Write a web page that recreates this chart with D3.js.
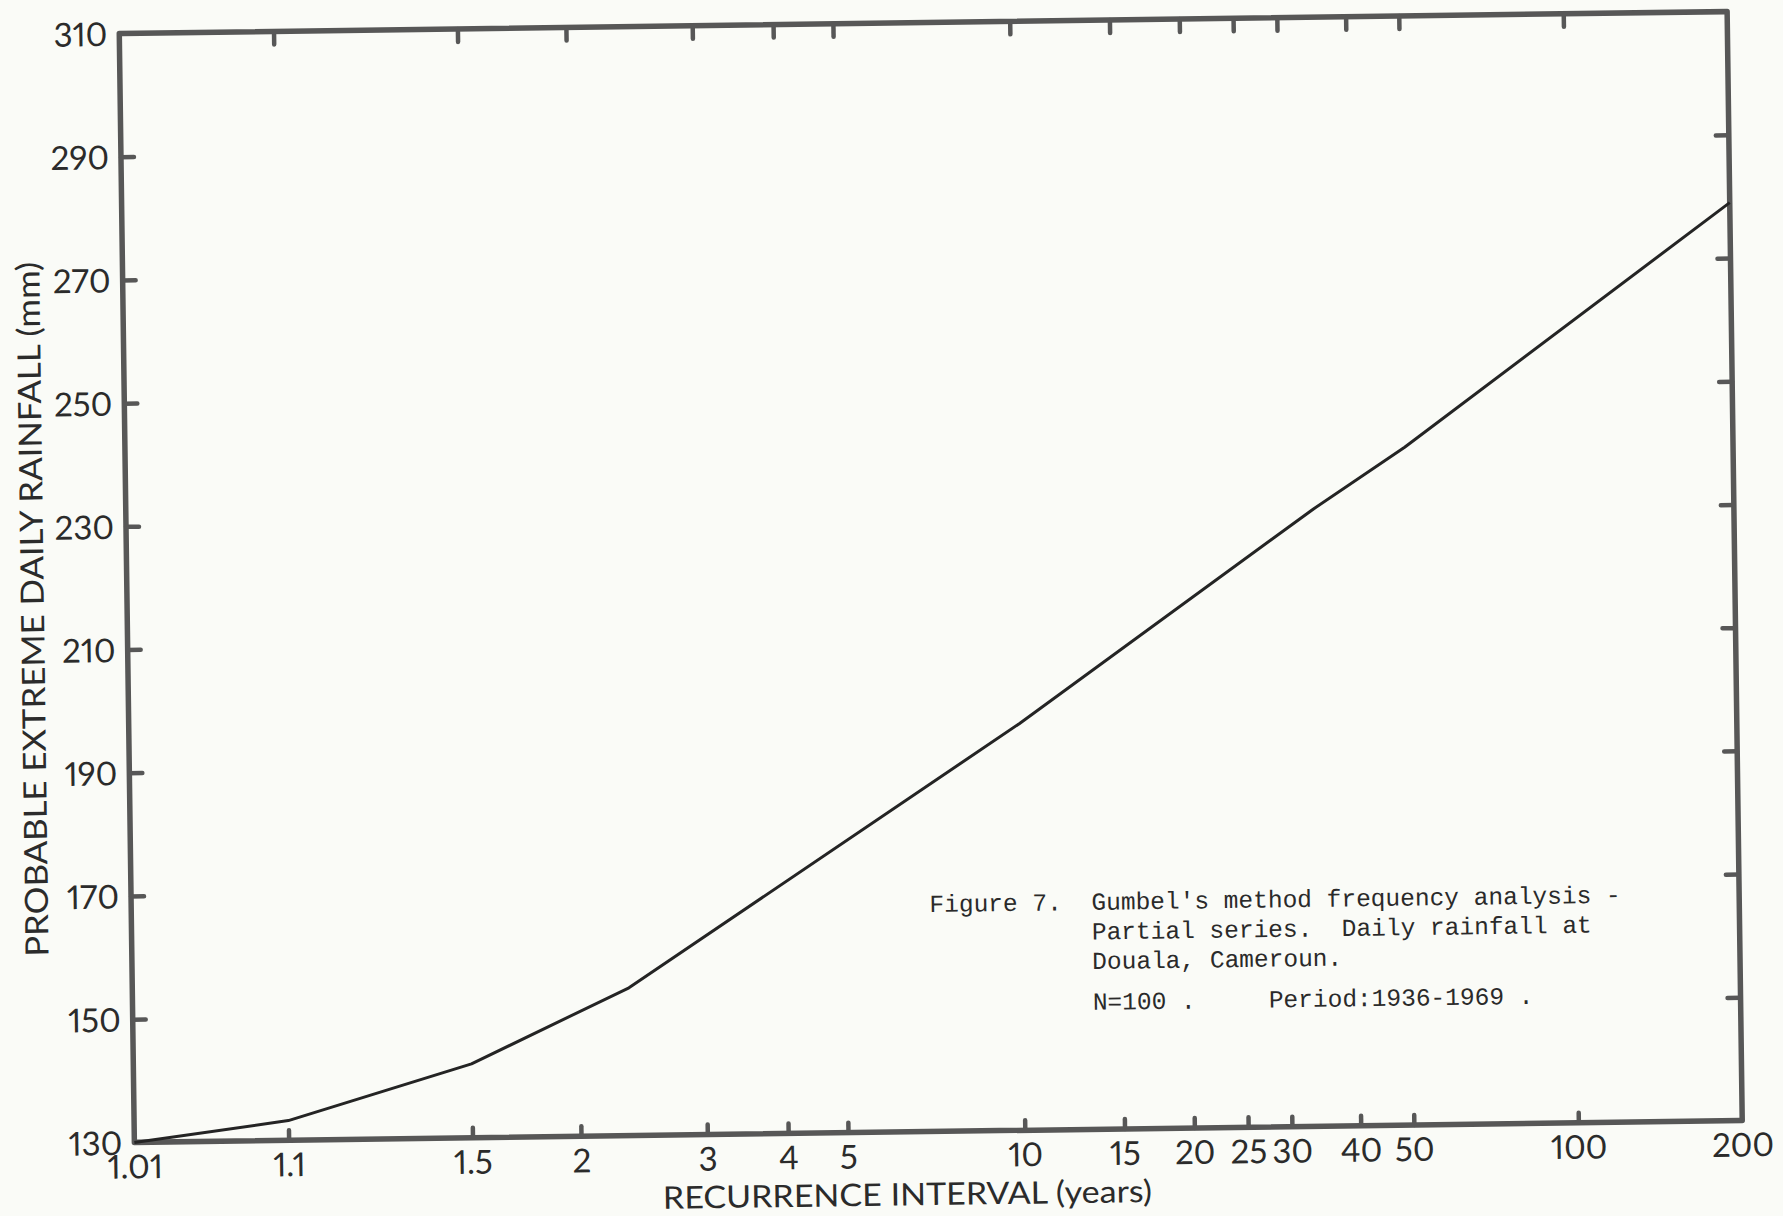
<!DOCTYPE html>
<html>
<head>
<meta charset="utf-8">
<script src="https://cdn.jsdelivr.net/npm/d3@7"></script>
<style>
  html, body { margin: 0; padding: 0; background: #fafbf7; }
  svg { display: block; }
</style>
</head>
<body>
<svg id="chart" width="1783" height="1216"></svg>
<script>
// Return periods (years) and probable extreme daily rainfall (mm) along the curve
const periods  = [1.01, 1.1, 1.5, 2.33, 10, 34, 50, 200];
const rainfall = [130, 133.2, 142, 154, 196, 230.2, 240, 279];

// Axis labelling
const xLabelValues = [1.01, 1.1, 1.5, 2, 3, 4, 5, 10, 15, 20, 25, 30, 40, 50, 100, 200];
const xLabelText   = ["1.01", "1.1", "1.5", "2", "3", "4", "5", "10", "15", "20", "25", "30", "40", "50", "100", "200"];
const xTickMarks   = [1.1, 1.5, 2, 3, 4, 5, 10, 15, 20, 25, 30, 40, 50, 100];
const yTickValues  = [130, 150, 170, 190, 210, 230, 250, 270, 290, 310];
const yTickMarks   = [150, 170, 190, 210, 230, 250, 270, 290];

const captionLines = [
  "Gumbel's method frequency analysis -",
  "Partial series.  Daily rainfall at",
  "Douala, Cameroun."
];

// Gumbel reduced variate: probability paper for extreme values
const gumbel = T => -Math.log(-Math.log(1 - 1 / T));

const W = 1783, H = 1216;
const frame = { left: 126.75, right: 1734.75, top: 22.5, bottom: 1131.5 };

const x = d3.scaleLinear()
  .domain([gumbel(1.01), gumbel(200)])
  .range([frame.left, frame.right]);
const y = d3.scaleLinear()
  .domain([130, 310])
  .range([frame.bottom, frame.top]);

const ink = "#2b2b2b";
const frameInk = "#575757";
const letterFont = "Lato, 'DejaVu Sans', sans-serif";

const svg = d3.select("#chart");
svg.append("rect").attr("width", W).attr("height", H).attr("fill", "#fafbf7");

// the sheet sits slightly askew
const g = svg.append("g")
  .attr("transform", `rotate(-0.78, ${(frame.left + frame.right) / 2}, ${(frame.top + frame.bottom) / 2})`);

// tick stubs, drawn inward on all four sides
function stubAxis(axis) {
  return sel => {
    sel.call(axis);
    sel.select(".domain").remove();
    sel.selectAll(".tick line")
      .attr("stroke", frameInk)
      .attr("stroke-width", 4.5)
      .attr("stroke-linecap", "round");
    sel.selectAll(".tick text").remove();
  };
}

g.append("g")
  .attr("transform", `translate(0,${frame.bottom})`)
  .call(stubAxis(d3.axisBottom(x).tickValues(xTickMarks.map(gumbel)).tickSize(-10)));
g.append("g")
  .attr("transform", `translate(0,${frame.top})`)
  .call(stubAxis(d3.axisTop(x).tickValues(xTickMarks.map(gumbel)).tickSize(-13)));
g.append("g")
  .attr("transform", `translate(${frame.left},0)`)
  .call(stubAxis(d3.axisLeft(y).tickValues(yTickMarks).tickSize(-13)));
g.append("g")
  .attr("transform", `translate(${frame.right},0)`)
  .call(stubAxis(d3.axisRight(y).tickValues(yTickMarks).tickSize(-13)));

// frame
g.append("rect")
  .attr("x", frame.left).attr("y", frame.top)
  .attr("width", frame.right - frame.left)
  .attr("height", frame.bottom - frame.top)
  .attr("fill", "none")
  .attr("stroke", frameInk)
  .attr("stroke-width", 5.5)
  .attr("stroke-linejoin", "round");

// x tick labels
const xLab = g.append("g")
  .attr("transform", `translate(0,${frame.bottom})`)
  .call(d3.axisBottom(x)
    .tickValues(xLabelValues.map(gumbel))
    .tickFormat((d, i) => xLabelText[i])
    .tickSize(0)
    .tickPadding(0));
xLab.select(".domain").remove();
xLab.selectAll(".tick text")
  .attr("y", 36)
  .attr("dy", 0)
  .attr("font-family", letterFont)
  .attr("font-size", 33)
  .style("font-variant-numeric", "proportional-nums")
  .attr("fill", ink);

// y tick labels
const yLab = g.append("g")
  .attr("transform", `translate(${frame.left},0)`)
  .call(d3.axisLeft(y)
    .tickValues(yTickValues)
    .tickFormat(d3.format("d"))
    .tickSize(0)
    .tickPadding(12));
yLab.select(".domain").remove();
yLab.selectAll(".tick text")
  .attr("dy", "0.36em")
  .attr("font-family", letterFont)
  .attr("font-size", 33)
  .style("font-variant-numeric", "proportional-nums")
  .attr("fill", ink);

// axis titles
g.append("text")
  .attr("x", 899).attr("y", 1205)
  .attr("text-anchor", "middle")
  .attr("font-family", letterFont)
  .attr("font-size", 31)
  .attr("fill", ink)
  .attr("textLength", 489)
  .attr("lengthAdjust", "spacingAndGlyphs")
  .text("RECURRENCE INTERVAL (years)");

g.append("text")
  .attr("transform", "translate(32,597) rotate(-90)")
  .attr("text-anchor", "middle")
  .attr("dy", "0.36em")
  .attr("font-family", letterFont)
  .attr("font-size", 32)
  .attr("fill", ink)
  .attr("textLength", 695)
  .attr("lengthAdjust", "spacingAndGlyphs")
  .text("PROBABLE EXTREME DAILY RAINFALL (mm)");

// frequency curve
const line = d3.line()
  .x(d => x(gumbel(d[0])))
  .y(d => y(d[1]));
g.append("path")
  .datum(periods.map((p, i) => [p, rainfall[i]]))
  .attr("d", line)
  .attr("fill", "none")
  .attr("stroke", "#242424")
  .attr("stroke-width", 3)
  .attr("stroke-linejoin", "round");

// caption in typewriter face; runs of spaces kept as non-breaking spaces
const mono = "'Liberation Mono', 'DejaVu Sans Mono', monospace";
const keepSpaces = s => s.replace(/ /g, "\u00a0");
const cap = g.append("g")
  .attr("font-family", mono)
  .attr("font-size", 24.5)
  .attr("fill", "#2a2a2a");
cap.append("text").attr("x", 925).attr("y", 912).text("Figure 7.");
cap.selectAll("text.line").data(captionLines).enter()
  .append("text").attr("class", "line")
  .attr("x", 1087)
  .attr("y", (d, i) => 912 + i * 29.6)
  .text(d => keepSpaces(d));
cap.append("text").attr("x", 1087).attr("y", 1012).text(keepSpaces("N=100 ."));
cap.append("text").attr("x", 1263).attr("y", 1012).text(keepSpaces("Period:1936-1969 ."));
</script>
</body>
</html>
